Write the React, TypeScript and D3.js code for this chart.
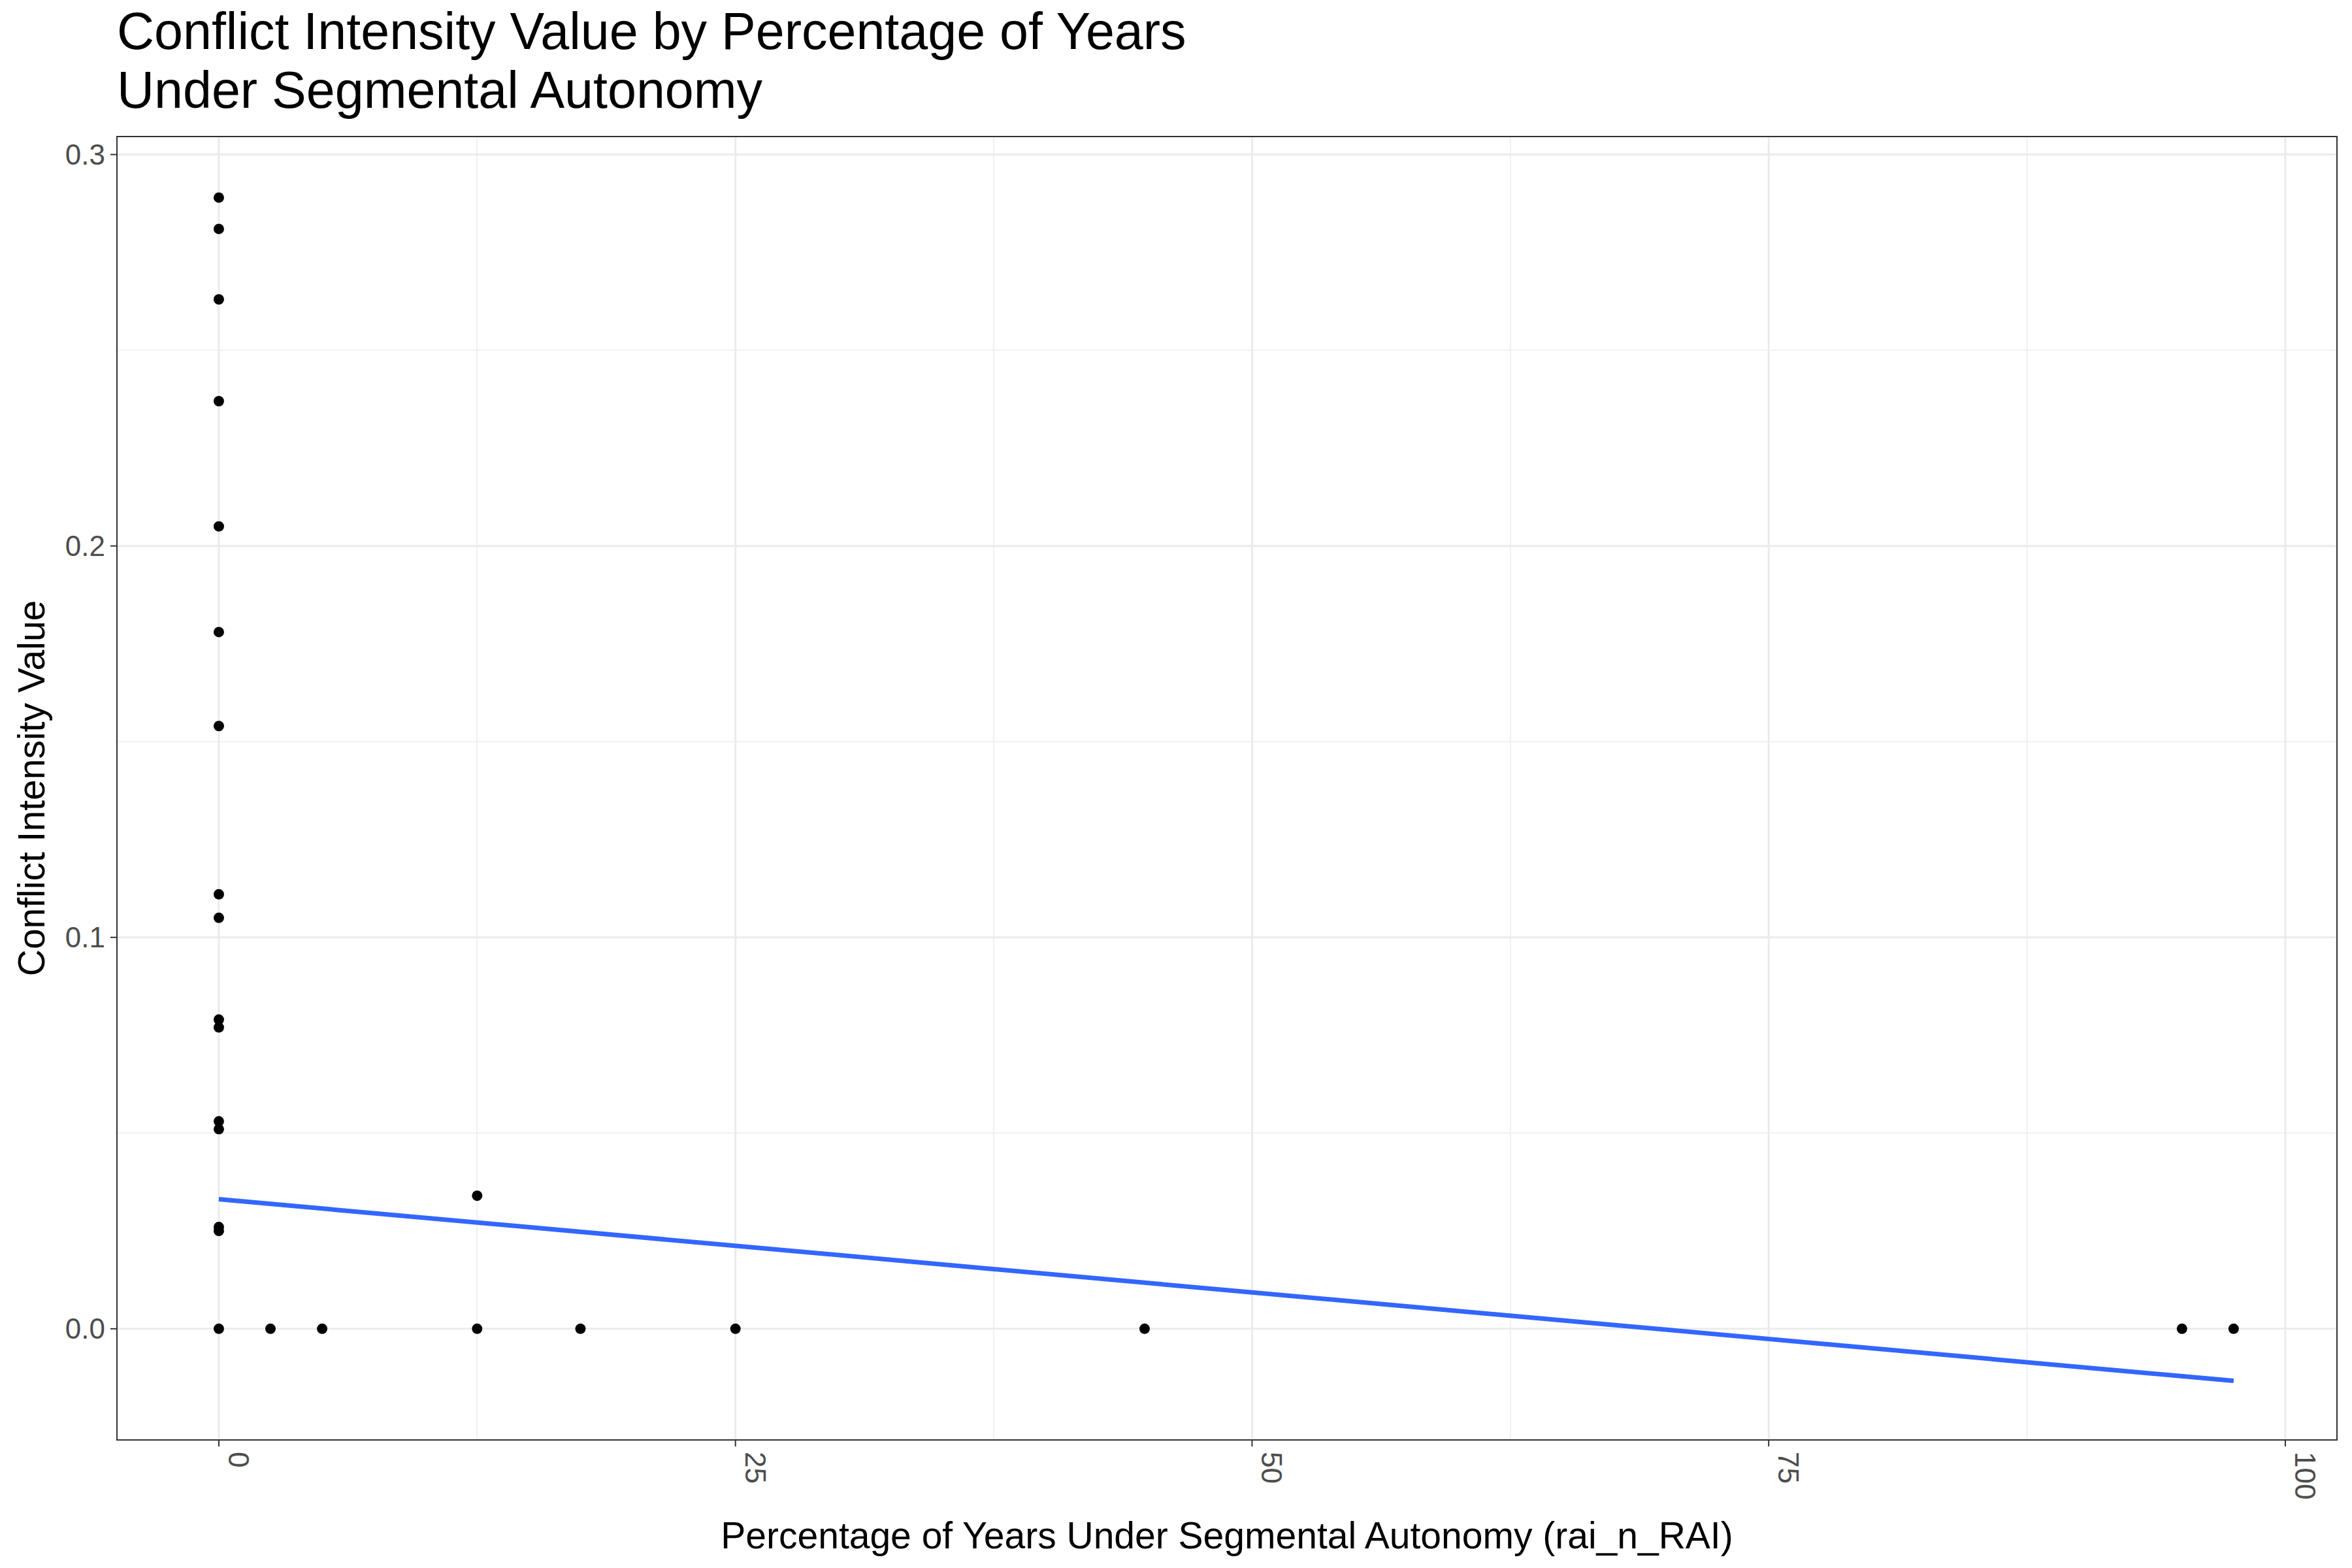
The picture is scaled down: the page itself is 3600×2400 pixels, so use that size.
import React from "react";
import * as d3 from "d3";

const xZero = [0.289, 0.281, 0.263, 0.237, 0.205, 0.178, 0.154, 0.111, 0.105, 0.079, 0.077, 0.053, 0.051, 0.026, 0.025, 0];
const otherX = [2.5, 5, 12.5, 12.5, 17.5, 25, 44.8, 95, 97.5];
const otherY = [0, 0, 0, 0.034, 0, 0, 0, 0, 0];
const fitIntercept = 0.0331;
const fitSlope = -0.000476;
const fitRange = [0, 97.5];
const xTicks = [0, 25, 50, 75, 100];
const yTicks = [0, 0.1, 0.2, 0.3];

export default function App() {
  const W = 3600, H = 2400;
  const L = 179, R = 3577, T = 209, B = 2204;
  const x = d3.scaleLinear().domain([-4.93, 102.5]).range([L, R]);
  const y = d3.scaleLinear().domain([-0.0284, 0.3046]).range([B, T]);
  const pts = [
    ...xZero.map((v) => [0, v]),
    ...otherX.map((v, i) => [v, otherY[i]]),
  ];
  const xMinor = [12.5, 37.5, 62.5, 87.5];
  const yMinor = [0.05, 0.15, 0.25];
  const line = d3.line<number>().x((d) => x(d)).y((d) => y(fitIntercept + fitSlope * d));
  const font = "Arial, 'Liberation Sans', sans-serif";
  return (
    <svg width={W} height={H} style={{ display: "block", margin: -8 }} fontFamily={font}>
      <rect width={W} height={H} fill="white" />
      {xMinor.map((v) => <line key={"xm" + v} x1={x(v)} x2={x(v)} y1={T} y2={B} stroke="#f0f0f0" strokeWidth={2} />)}
      {yMinor.map((v) => <line key={"ym" + v} x1={L} x2={R} y1={y(v)} y2={y(v)} stroke="#f0f0f0" strokeWidth={2} />)}
      {xTicks.map((v) => <line key={"x" + v} x1={x(v)} x2={x(v)} y1={T} y2={B} stroke="#ebebeb" strokeWidth={3} />)}
      {yTicks.map((v) => <line key={"y" + v} x1={L} x2={R} y1={y(v)} y2={y(v)} stroke="#ebebeb" strokeWidth={3} />)}
      {pts.map((p, i) => <circle key={i} cx={x(p[0])} cy={y(p[1])} r={8} fill="black" />)}
      <path d={line(fitRange) || ""} stroke="#3366FF" strokeWidth={7} fill="none" />
      <rect x={L} y={T} width={R - L} height={B - T} fill="none" stroke="#333" strokeWidth={2} />
      {xTicks.map((v) => (
        <g key={"xt" + v}>
          <line x1={x(v)} x2={x(v)} y1={B} y2={B + 10} stroke="#333" strokeWidth={2} />
          <text transform={`translate(${x(v) + 15},${B + 18}) rotate(90)`} fontSize={44} fill="#4d4d4d" textAnchor="start">{v}</text>
        </g>
      ))}
      {yTicks.map((v) => (
        <g key={"yt" + v}>
          <line x1={L - 10} x2={L} y1={y(v)} y2={y(v)} stroke="#333" strokeWidth={2} />
          <text x={L - 18} y={y(v) + 15} fontSize={44} fill="#4d4d4d" textAnchor="end">{v.toFixed(1)}</text>
        </g>
      ))}
      <text x={(L + R) / 2} y={2370} fontSize={57} textAnchor="middle">Percentage of Years Under Segmental Autonomy (rai_n_RAI)</text>
      <text transform={`translate(68,${(T + B) / 2}) rotate(-90)`} fontSize={57} textAnchor="middle">Conflict Intensity Value</text>
      <text x={179} y={75} fontSize={79}>Conflict Intensity Value by Percentage of Years</text>
      <text x={179} y={165} fontSize={79}>Under Segmental Autonomy</text>
    </svg>
  );
}
